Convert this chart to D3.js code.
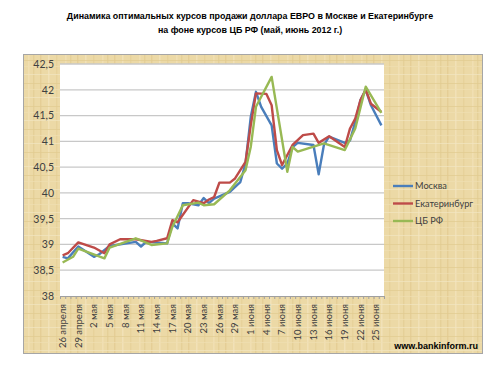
<!DOCTYPE html>
<html>
<head>
<meta charset="utf-8">
<script src="https://cdn.jsdelivr.net/npm/d3@7"></script>
<style>
  body { margin: 0; background: #fff; }
  svg { display: block; }
</style>
</head>
<body>
<div id="chart"></div>
<script>
// days 26 апреля .. 26 июня (one category per calendar day)
const months = ['апреля', 'мая', 'июня'];
const days = [];
{
  const start = new Date(2012, 3, 26);
  for (let i = 0; i < 62; i++) {
    const d = new Date(start.getTime() + i * 86400000);
    days.push(d.getDate() + ' ' + months[d.getMonth() - 3]);
  }
}

// values: [day index, rate]
const moscow = [
  [0, 38.76], [1, 38.73], [3, 38.96], [6, 38.76], [7, 38.81], [9, 38.97],
  [14, 39.05], [15, 38.96], [16, 39.05], [19, 39.03], [20, 39.02], [21, 39.41],
  [22, 39.31], [23, 39.80], [24, 39.80], [26, 39.76], [27, 39.90], [28, 39.80],
  [29, 39.89], [32, 40.02], [34, 40.21], [35, 40.57], [36, 41.47], [37, 41.96],
  [38, 41.67], [40, 41.31], [41, 40.57], [42, 40.47], [43, 40.57], [44, 40.89],
  [45, 40.97], [48, 40.93], [49, 40.36], [50, 40.93], [51, 41.09], [54, 40.97],
  [55, 41.02], [56, 41.38], [57, 41.80], [58, 42.00], [59, 41.70], [61, 41.31]
];
const ekb = [
  [0, 38.79], [1, 38.83], [3, 39.04], [6, 38.94], [8, 38.83], [9, 39.00],
  [11, 39.10], [14, 39.10], [17, 39.05], [18, 39.07], [20, 39.12], [21, 39.47],
  [22, 39.43], [25, 39.86], [26, 39.83], [27, 39.80], [28, 39.87], [29, 39.92],
  [30, 40.20], [32, 40.20], [33, 40.28], [35, 40.60], [36, 41.31], [37, 41.93],
  [39, 41.92], [40, 41.70], [41, 40.83], [42, 40.54], [44, 40.93], [46, 41.12],
  [48, 41.15], [49, 40.97], [51, 41.10], [54, 40.89], [55, 41.25], [56, 41.44],
  [57, 41.80], [58, 42.00], [59, 41.73], [61, 41.57]
];
const cbrf = [
  [0, 38.65], [2, 38.76], [3, 38.92], [8, 38.73], [9, 38.94], [14, 39.12],
  [17, 38.99], [20, 39.02], [21, 39.34], [23, 39.76], [26, 39.81], [27, 39.76],
  [29, 39.78], [32, 40.05], [35, 40.44], [36, 40.89], [37, 41.67], [40, 42.25],
  [43, 40.41], [44, 40.89], [45, 40.80], [50, 40.96], [54, 40.83], [56, 41.25],
  [58, 42.06], [61, 41.55]
];
const seriesNames = ['Москва', 'Екатеринбург', 'ЦБ РФ'];
const seriesColors = ['#4a7ebb', '#be4b48', '#98b954'];
const yTicks = [38, 38.5, 39, 39.5, 40, 40.5, 41, 41.5, 42, 42.5];

const width = 500, height = 368;
const plot = { left: 60, right: 384, top: 64, bottom: 296 };

const svg = d3.select('#chart').append('svg')
  .attr('width', width).attr('height', height);

// papyrus-like texture
const defs = svg.append('defs');
const pat = defs.append('pattern').attr('id', 'papyrus')
  .attr('patternUnits', 'userSpaceOnUse').attr('width', 37).attr('height', 23);
pat.append('rect').attr('width', 37).attr('height', 23).attr('fill', '#ecd9a6');
[[3, '#e3cc92'], [11, '#f2e3bb'], [19, '#e6d199'], [28, '#f1e1b5'], [33, '#e4ce95']].forEach(([x, c]) =>
  pat.append('rect').attr('x', x).attr('y', 0).attr('width', 1.5).attr('height', 23).attr('fill', c).attr('opacity', 0.8));
[[5, '#f3e6c2'], [14, '#e2cb90'], [20, '#f0dfb2']].forEach(([y, c]) =>
  pat.append('rect').attr('x', 0).attr('y', y).attr('width', 37).attr('height', 1).attr('fill', c).attr('opacity', 0.7));

svg.append('rect')
  .attr('x', 23.5).attr('y', 54.5).attr('width', 459).attr('height', 299)
  .attr('fill', 'url(#papyrus)').attr('stroke', '#a6a6a6');

svg.append('rect')
  .attr('x', plot.left).attr('y', plot.top)
  .attr('width', plot.right - plot.left).attr('height', plot.bottom - plot.top)
  .attr('fill', '#fff');

// title
const title = svg.append('text').attr('text-anchor', 'middle')
  .style('font-family', '"Liberation Sans", Arial, sans-serif')
  .style('font-weight', 'bold').style('font-size', '8.9px').attr('fill', '#000');
title.append('tspan').attr('x', 250).attr('y', 19)
  .text('Динамика оптимальных курсов продажи доллара ЕВРО в Москве и Екатеринбурге');
title.append('tspan').attr('x', 250).attr('y', 33)
  .text('на фоне курсов ЦБ РФ (май, июнь 2012 г.)');

const x = d3.scaleBand().domain(d3.range(days.length))
  .range([plot.left, plot.right]);
const xMinor = d3.scaleLinear().domain([0, days.length])
  .range([plot.left, plot.right]);
const y = d3.scaleLinear().domain([38, 42.5])
  .range([plot.bottom, plot.top]);

// grid
svg.append('g').selectAll('line').data(yTicks.slice(1)).join('line')
  .attr('x1', plot.left).attr('x2', plot.right)
  .attr('y1', d => y(d)).attr('y2', d => y(d))
  .attr('stroke', '#c8c8c8').attr('stroke-width', 1.3);

// y axis labels
const fmt = d => String(d).replace('.', ',');
const yAxis = svg.append('g').attr('transform', `translate(${plot.left},0)`)
  .call(d3.axisLeft(y).tickValues(yTicks).tickFormat(fmt).tickSize(0).tickPadding(6));
yAxis.select('.domain').remove();
yAxis.selectAll('text')
  .style('font-family', 'Lato, "Open Sans", sans-serif')
  .style('font-size', '10.5px').attr('fill', '#404040');

// x axis: minor ticks + rotated labels
const xTickAxis = svg.append('g').attr('transform', `translate(0,${plot.bottom})`)
  .call(d3.axisBottom(xMinor).tickValues(d3.range(days.length + 1)).tickSize(3).tickFormat(''));
xTickAxis.select('.domain').attr('stroke', '#a0a0a0');
xTickAxis.selectAll('.tick line').attr('stroke', '#a0a0a0');

const xAxis = svg.append('g').attr('transform', `translate(0,${plot.bottom})`)
  .call(d3.axisBottom(x).tickValues(d3.range(0, days.length, 3))
    .tickFormat(i => days[i]).tickSize(0));
xAxis.select('.domain').remove();
xAxis.selectAll('text')
  .attr('transform', 'rotate(-90)')
  .attr('text-anchor', 'end')
  .attr('x', -8).attr('y', 0).attr('dy', '0.35em')
  .style('font-family', 'Lato, "Open Sans", sans-serif')
  .style('font-size', '9.5px').attr('fill', '#404040');

// lines
const line = d3.line()
  .x(d => x(d[0]) + x.bandwidth() / 2)
  .y(d => y(d[1]));
[moscow, ekb, cbrf].forEach((s, k) => {
  svg.append('path').datum(s)
    .attr('fill', 'none').attr('stroke', seriesColors[k])
    .attr('stroke-width', 2.4).attr('stroke-linejoin', 'round')
    .attr('d', line);
});

// legend
const legend = svg.append('g').attr('transform', 'translate(393,186)');
seriesNames.forEach((n, k) => {
  const g = legend.append('g').attr('transform', `translate(0,${k * 17.5})`);
  g.append('line').attr('x1', 0).attr('x2', 20)
    .attr('stroke', seriesColors[k]).attr('stroke-width', 2.4);
  g.append('text').attr('x', 22).attr('dy', '0.35em').text(n)
    .style('font-family', 'Lato, "Open Sans", sans-serif')
    .style('font-size', '9.2px').attr('fill', '#404040');
});

svg.append('text').attr('x', 478).attr('y', 349).attr('text-anchor', 'end')
  .style('font-family', '"Liberation Sans", Arial, sans-serif')
  .style('font-weight', 'bold').style('font-size', '9px').attr('fill', '#000')
  .text('www.bankinform.ru');
</script>
</body>
</html>
